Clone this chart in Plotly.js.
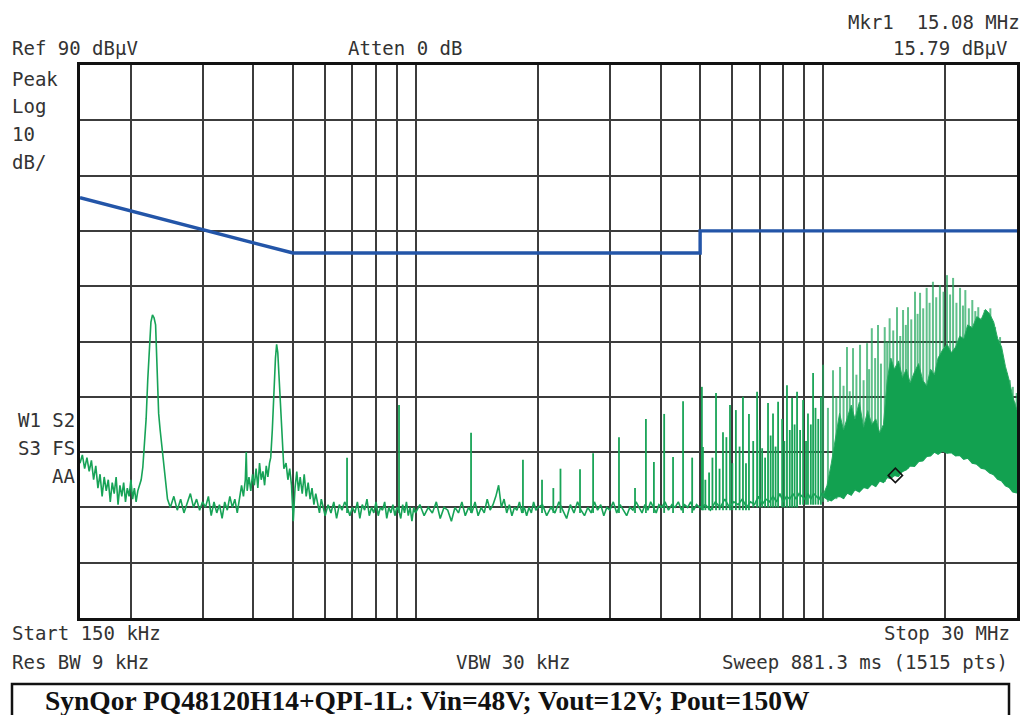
<!DOCTYPE html>
<html>
<head>
<meta charset="utf-8">
<script src="https://cdn.plot.ly/plotly-3.0.1.min.js"></script>
<style>
  html, body { margin: 0; padding: 0; background: #fff; }
  #chart { width: 1021px; height: 715px; }
</style>
</head>
<body>
<div id="chart"></div>
<script>
// Conducted emissions sweep, 150 kHz - 30 MHz. Frequencies in kHz, levels in dBµV.

// Measured trace: noise floor and the two broad switching peaks, [kHz, dBµV]
const floorLowBand = [
  [150,18],[152,19.5],[154,17],[156,19],[158,16.5],[160,18.5],[162,15],[164,17.5],[166,13.5],[168,16],
  [170,12],[172,15.5],[174,13],[176,15],[178,11],[180,14.5],[182,12.5],[184,15.5],[186,10.5],[188,14],
  [190,12],[192,14.5],[194,11],[196,13.5],[198,12],[200,15],[202,11.5],[204,13.5],[206,11],[208,13],
  [210,14],[212,15],[214,17.3],[216,21],[218,26],[220,33],[222,39],[224,43.5],[226,44.8],[228,44.3],
  [230,43],[232,36],[234,27],[236,24],[238,21.5],[240,18.5],[242,15.5],[244,13.5],[246,11.5]
];
const floorSecondPeak = [
  [250,10],[255,12],[260,9.5],[265,11.5],[270,9],[275,11],[280,12.5],[285,10],[290,11.5],[295,9.5],
  [300,11],[305,10],[310,12],[315,8.5],[320,11],[325,9],[330,10.5],[335,8],[340,11],[345,9.5],
  [350,12],[355,10],[360,11.5],[365,9],[370,12],[374,14],[378,12],[382,15],[384,20],[386,13],
  [390,15.5],[394,13],[398,16],[402,14],[406,17],[410,13.5],[414,18],[418,15],[422,16.5],[426,14],
  [430,17.5],[434,15.5],[438,18],
  [441,19],[445,24],[449,31],[453,37],[456,39.5],[459,38],[462,34],[465,30],[468,25],[471,20],[475,17],
  [481,18],[486,15],[491,17],[496,14],[501,7.5],[506,13.5],[511,16.5],[516,13],[521,15.5],[527,12.5],
  [533,16],[539,12],[545,14.5],[551,11.5],[557,13.5],[563,10.5],[569,12.5],[575,11],[581,9],[587,11.5]
];
const floorMidBand = [
  [593,10],[600,8.5],[610,10.5],[620,9],[630,11],[640,8],[650,10.5],[660,9.5],[670,11],[680,10],
  [690,8.5],[700,10],[710,9],[720,11],[730,8],[740,10.5],[750,9.5],[760,11.5],[770,8.5],[780,10],
  [790,9],[800,11],[810,8.5],[820,10],[830,9.5],[840,11],[850,8],[860,10],[870,9],[880,10.5],
  [890,8.5],[900,10],[910,9.5],[920,8],[930,10.5],[940,9],[950,11],[960,8.5],[970,10],[980,7.5],
  [990,10],[1000,9],
  [1025,10.5],[1050,8.5],[1075,10],[1100,9],[1125,11],[1150,8],[1175,10],[1200,9.5],[1225,7.5],[1250,10],
  [1275,9],[1300,11],[1325,8.5],[1350,10],[1375,9],[1400,11],[1425,8.5],[1450,10],[1475,9],[1500,11.5],
  [1525,9.5],[1550,10.5],[1575,12],[1600,14],[1625,10],[1650,11.5],[1675,9],[1700,10.5],[1725,8.5],[1750,10],
  [1775,9.5],[1800,11],[1825,9],[1850,10],[1875,8.5],[1900,10],[1925,9],[1950,11],[1975,9.5],[2000,10]
];
const floorHighBand = [
  [2050,10.5],[2100,8.5],[2150,10],[2200,9],[2250,11],[2300,9.5],[2350,8],[2400,10.5],[2450,9],[2500,11],
  [2550,9.5],[2600,8.5],[2650,10],[2700,9],[2750,11],[2800,9.5],[2850,10.5],[2900,8.5],[2950,10],[3000,9.5],
  [3060,11],[3120,9],[3180,10.5],[3240,9.5],[3300,8.5],[3360,10],[3420,9.5],[3480,11],[3540,10],[3600,9],
  [3660,10.5],[3720,9.5],[3780,11],[3840,10],[3900,9],[3960,10.5],[4020,10],[4100,11],[4180,9.5],[4260,10.5],
  [4340,10],[4420,11],[4500,9.5],[4580,10.5],[4660,10],[4740,11],[4820,9.5],[4900,10.5],[4980,10],
  [5150,10.5],[5300,9.5],[5450,11],[5600,10],[5750,11.5],[5900,10],[6050,11],[6200,10.5],[6350,11.5],[6500,10],
  [6650,11],[6800,10.5],[6950,12],[7100,10.5],[7250,11.5],[7400,11],[7550,12],[7700,11],[7850,12.5],[8000,11],
  [8150,12],[8300,11.5],[8450,12.5],[8600,11.5],[8750,12.5],[8900,12],[9050,11.5],[9200,12.5],[9350,11.5],[9500,12.5],
  [9650,12],[9800,11.5],[9950,12.5],[10100,12],[10300,11.5],[10500,12]
];

// Narrow switching harmonics below 10 MHz, [kHz, base dBµV, peak dBµV]
const harmonicLines = [
  [679,9,19],[911,9,28.5],[1369,9,23.5],[1836,9,18.6],[2045,9,15],[2180,9,13.5],[2270,9,17],[2535,9,16.9],
  [2730,9,19.8],[3160,9,22.7],[3460,9,13.5],[3680,9,26],[3850,9,18.2],[4080,9,26.9],[4290,9,19.1],[4540,9,29.2],
  [4780,9,19],[5050,9.5,31.8],[5080,9.5,20.9],[5150,9.5,15],[5260,9.5,16.3],[5360,9.5,19],[5470,9.5,30.7],
  [5580,9.5,17],[5690,9.5,23.6],[5800,9.5,22.7],[5920,9.5,28.5],[6000,9.5,18],[6120,9.5,27.6],[6250,9.5,21],
  [6370,9.5,30],[6480,9.5,18],[6590,9.5,26.9],[6750,10,22],[6900,10,30.9],[7000,10,24],[7100,10,20.7],
  [7220,10,19],[7340,10,28.9],[7450,10,23],[7550,10,27],[7660,10,21],[7770,10,29.1],[7950,10,26],[8050,10,22],
  [8170,10,32.1],[8300,10,24],[8410,10,29.8],[8530,10,25],[8650,10,30.9],[8800,10.5,24],[8950,10.5,29.4],
  [9100,10.5,22],[9200,10.5,27],[9350,10.5,25],[9470,10.5,34.3],[9600,10.5,28],[9750,10.5,26],[9900,10.5,30]
];

// Dense harmonic region above 10 MHz, [kHz, base dBµV, peak dBµV]
const harmonicForest = [
  [10020,11,35.8],[10300,11,28],[10600,11.5,34.8],[10800,11.5,30],[11030,12,35.4],[11250,11.6,32],[11470,12.5,39],
  [11650,12.3,31],[11870,13,38.8],[12100,13,34],[12350,13,39.4],[12600,13.5,33],[12850,13.5,39.7],[13000,13.8,35],
  [13200,14.2,42.4],[13450,13.8,37],[13670,14.5,43],[13900,14.8,36],[14200,14.6,42.6],[14400,15.4,40],[14600,15.2,44.2],
  [14900,15.6,42],[15220,15.6,46.2],[15500,16,41],[15750,16.5,45.7],[16000,16.8,43],[16200,17,46.2],[16500,17.5,44],
  [16850,17.6,49],[17100,18.2,45],[17340,18.4,48.8],[17650,18.5,46],[18000,19.2,49.7],[18300,19.3,47],[18650,19.8,50.8],
  [19000,19.8,48],[19400,19.8,50.2],[19800,20,49],[20190,19.8,52],[20550,19.9,48.5],[20900,19.6,51.5],[21300,19.3,47],
  [21740,19.4,49.7],[22100,18.8,46.5],[22400,18.8,49.3],[22850,18.8,46],[23300,18,47.5],[23700,17.9,45.5],[24100,17.6,46.2],
  [24500,17.1,44],[25000,17,45.7],[25400,16.6,43],[25800,16.2,46],[26200,16,41],[26500,15.7,42.6],[26900,15.1,38],
  [27260,15,40.8],[27700,14.5,37],[28350,13.8,34.3],[28800,13.5,33],[29300,12.8,31.8],[29600,12.7,29],[29950,12.6,30.7]
];

// Solid envelope of the dense region: frequency, lower edge, upper edge
const bandFreq = [10000,10250,10500,10750,11000,11250,11500,11750,12000,12300,12600,12900,13200,13500,13800,
                  14100,14400,14700,15000,15350,15700,16050,16400,16800,17200,17600,18000,18400,18800,19200,
                  19700,20200,20700,21200,21700,22200,22700,23300,23900,24500,25100,25700,26300,26900,27500,
                  28100,28700,29300,30000];
const bandLow  = [12,11.5,11.2,11.8,12,11.6,12.6,12.2,13.2,12.8,13.6,13.4,14.2,13.8,14.8,
                  14.5,15.4,15.2,15.8,15.6,16.5,16.8,17.5,17.4,18.3,18.4,19.2,19.3,20,19.6,
                  20.2,19.8,19.9,19.3,19.4,18.7,18.9,18,17.8,17.1,16.9,16.2,15.9,15.1,14.8,
                  13.9,13.6,12.8,12.6];
const bandHigh = [12,14,18,23,27,24,26.5,28.5,26,29,24.5,27.5,25,26,23.5,
                  25,33,37,35,36.5,33.5,35,32.5,34.5,36,33,32,35,34,37,
                  38.5,39.5,38,39,41,40.5,43,42.5,44.5,44,45.8,45,43.5,40.5,39,
                  35.5,33,30,27.6];

// Limit line
const limitFreq  = [150, 500, 5000, 5000, 30000];
const limitLevel = [66, 56, 56, 60, 60];

// Marker 1
const markerFreq  = [15080];
const markerLevel = [15.79];

// Vertical graticule (log divisions)
const gridFreq = [200,300,400,500,600,700,800,900,1000,2000,3000,4000,5000,6000,7000,8000,9000,10000,20000];

const GREEN = '#17a357';

function spikeXY(list) {
  const x = [], y = [];
  list.forEach(([f, b, p]) => { x.push(f, f, null); y.push(b, p, null); });
  return { x, y };
}

const floorAll = floorLowBand.concat(floorSecondPeak, floorMidBand, floorHighBand);
const lines = spikeXY(harmonicLines);
const forest = spikeXY(harmonicForest);

const traces = [
  { x: forest.x, y: forest.y, mode: 'lines', line: { color: 'rgba(36,168,94,0.72)', width: 2 }, hoverinfo: 'skip' },
  { x: bandFreq, y: bandLow, mode: 'lines', line: { color: GREEN, width: 1.2 }, hoverinfo: 'skip' },
  { x: bandFreq, y: bandHigh, mode: 'lines', fill: 'tonexty', fillcolor: '#12a150', line: { color: '#2aab62', width: 1 }, hoverinfo: 'skip' },
  { x: floorAll.map(p => p[0]), y: floorAll.map(p => p[1]), mode: 'lines', line: { color: GREEN, width: 1.6 } },
  { x: lines.x, y: lines.y, mode: 'lines', line: { color: '#19a457', width: 1.8 } },
  { x: limitFreq, y: limitLevel, mode: 'lines', line: { color: '#2355a8', width: 3.4 } },
  { x: markerFreq, y: markerLevel, mode: 'markers',
    marker: { symbol: 'diamond-open', size: 11, color: '#111', line: { width: 1.6, color: '#111' } } }
];

// Pixel helpers for the text around the graticule
const PL = 80, PR = 1017, PT = 65, PB = 618;
const px = x => (x - PL) / (PR - PL);
const py = y => (PB - y) / (PB - PT);

const mono = { family: 'DejaVu Sans Mono, monospace', size: 19, color: '#333' };
function label(text, x, y, anchor) {
  return { text, x: px(x), y: py(y), xref: 'paper', yref: 'paper', xanchor: anchor || 'left',
           yanchor: 'middle', showarrow: false, font: mono, borderpad: 0 };
}

const annotations = [
  label('Mkr1\u00a0\u00a015.08 MHz', 847, 22),
  label('Ref 90 dBµV', 11, 48),
  label('Atten 0 dB', 347, 48),
  label('15.79 dBµV', 1008, 48, 'right'),
  label('Peak', 11, 79),
  label('Log', 11, 106),
  label('10', 11, 134),
  label('dB/', 11, 162),
  label('W1 S2', 76, 420, 'right'),
  label('S3 FS', 76, 448, 'right'),
  label('AA', 76, 476, 'right'),
  label('Start 150 kHz', 11, 633),
  label('Stop 30 MHz', 1011, 633, 'right'),
  label('Res BW 9 kHz', 11, 662),
  label('VBW 30 kHz', 455, 662),
  label('Sweep 881.3 ms (1515 pts)', 1009, 662, 'right'),
  { text: '<b>SynQor PQ48120H14+QPI-1L: Vin=48V; Vout=12V; Pout=150W</b>', x: px(44), y: py(700),
    xref: 'paper', yref: 'paper', xanchor: 'left', yanchor: 'middle', showarrow: false, borderpad: 0,
    font: { family: 'Liberation Serif, Times New Roman, serif', size: 27.5, color: '#111' } }
];

const layout = {
  width: 1021, height: 715,
  margin: { l: PL, r: 1021 - PR, t: PT, b: 715 - PB, pad: 0 },
  paper_bgcolor: '#fff', plot_bgcolor: '#fff',
  showlegend: false,
  xaxis: {
    type: 'log', range: [Math.log10(150), Math.log10(30000)],
    tickmode: 'array', tickvals: gridFreq, showticklabels: false, ticks: '',
    showgrid: true, gridcolor: '#3c3c3c', gridwidth: 2, zeroline: false,
    showline: true, mirror: true, linecolor: '#111', linewidth: 3
  },
  yaxis: {
    range: [-10, 90], tick0: -10, dtick: 10, showticklabels: false, ticks: '',
    showgrid: true, gridcolor: '#3c3c3c', gridwidth: 2, zeroline: false,
    showline: true, mirror: true, linecolor: '#111', linewidth: 3
  },
  shapes: [
    { type: 'rect', xref: 'paper', yref: 'paper', x0: px(12), x1: px(1009), y0: py(684), y1: py(730),
      line: { color: '#111', width: 2.5 }, fillcolor: 'rgba(0,0,0,0)' }
  ],
  annotations
};

Plotly.newPlot('chart', traces, layout, { staticPlot: true, displayModeBar: false });
</script>
</body>
</html>
